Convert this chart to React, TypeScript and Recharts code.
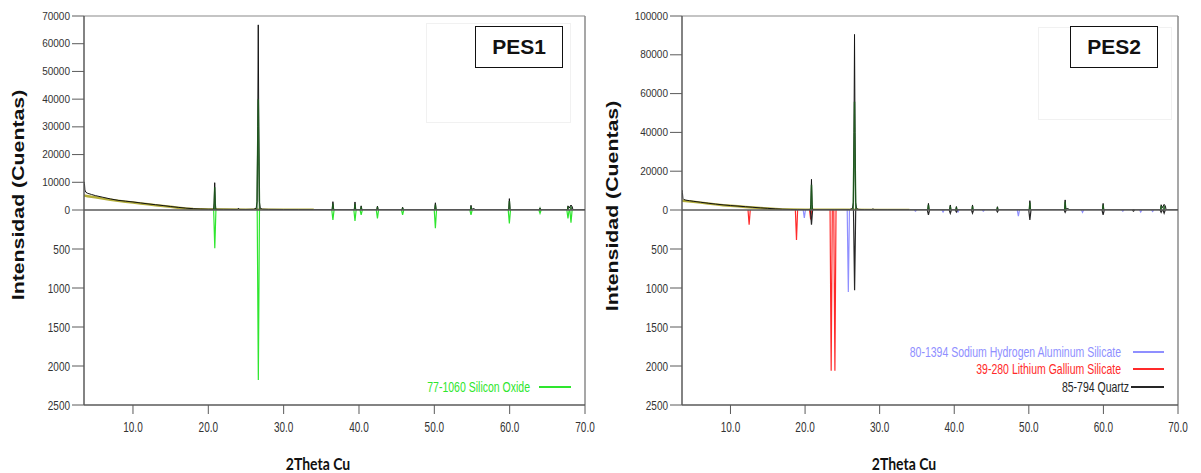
import React from "react";
import { LineChart, Line, XAxis, YAxis, ReferenceLine } from "recharts";

type Pt = [number, number];

const thetaTicks = [10, 20, 30, 40, 50, 60, 70];
const refTicks = [500, 1000, 1500, 2000, 2500];
const pes1CountTicks = [0, 10000, 20000, 30000, 40000, 50000, 60000, 70000];
const pes2CountTicks = [0, 20000, 40000, 60000, 80000, 100000];

// PES1 measured scan, 2θ vs counts
const pes1Scan: Pt[] = [
  [3.5, 10200], [3.56, 9600], [3.62, 7200], [3.75, 6400], [4.0, 6000], [4.5, 5600], [5.0, 5200],
  [6.0, 4600], [7.0, 4000], [8.0, 3500], [9.0, 3200], [10.0, 2900], [11.0, 2550], [12.0, 2200],
  [13.0, 1900], [14.0, 1600], [15.0, 1250], [16.0, 950], [17.0, 680], [18.0, 470], [19.0, 340],
  [20.0, 280], [20.7, 260], [20.78, 2500], [20.85, 9850], [20.92, 2500], [21.0, 260],
  [22.0, 240], [23.0, 220], [23.9, 210], [24.0, 650], [24.1, 210], [25.0, 200], [26.0, 260],
  [26.35, 600], [26.48, 3000], [26.56, 30000], [26.63, 66800], [26.7, 30000], [26.78, 3000],
  [26.9, 600], [27.2, 300], [28.0, 220], [30.0, 180], [32.0, 150], [34.0, 120],
  [36.44, 110], [36.54, 3000], [36.64, 110], [39.38, 100], [39.47, 2900], [39.56, 100],
  [40.22, 100], [40.29, 1500], [40.38, 100], [42.37, 100], [42.45, 1400], [42.54, 100],
  [45.72, 90], [45.79, 1000], [45.88, 90], [50.05, 90], [50.14, 2600], [50.24, 90],
  [54.8, 80], [54.87, 1700], [54.95, 300], [55.3, 500], [55.4, 80], [59.88, 80], [59.96, 4100],
  [60.05, 500], [60.12, 80], [63.95, 80], [64.03, 700], [64.11, 80], [67.66, 80], [67.74, 1500],
  [67.9, 700], [68.14, 1800], [68.3, 1200], [68.4, 80], [70.0, 80],
];

// PES1 fitted background
const pes1Background: Pt[] = [
  [3.5, 5200], [4.0, 5000], [5.0, 4600], [6.0, 4100], [7.0, 3700], [8.0, 3300], [9.0, 3000],
  [10.0, 2700], [11.0, 2350], [12.0, 2050], [13.0, 1750], [14.0, 1450], [15.0, 1150],
  [16.0, 850], [17.0, 550], [18.0, 350], [19.0, 250], [20.0, 200], [22.0, 150], [25.0, 120],
  [30.0, 80], [34.0, 50],
];

// PES1 calculated profile around each reflection
const pes1Profile: Pt[][] = [
  [[20.75, 0], [20.85, 8200], [20.95, 0]],
  [[26.45, 0], [26.55, 22000], [26.63, 40000], [26.7, 22000], [26.8, 0]],
  [[36.46, 0], [36.54, 2300], [36.62, 0]],
  [[39.4, 0], [39.47, 2200], [39.54, 0]],
  [[40.23, 0], [40.29, 1200], [40.35, 0]],
  [[42.39, 0], [42.45, 1100], [42.51, 0]],
  [[45.73, 0], [45.79, 800], [45.85, 0]],
  [[50.07, 0], [50.14, 2000], [50.21, 0]],
  [[54.8, 0], [54.87, 1300], [54.94, 0]],
  [[59.89, 0], [59.96, 3200], [60.03, 0]],
  [[63.97, 0], [64.03, 500], [64.09, 0]],
  [[67.68, 0], [67.74, 1200], [67.8, 0]],
  [[68.08, 0], [68.14, 1400], [68.2, 0]],
];

// PES2 measured scan
const pes2Scan: Pt[] = [
  [3.5, 10300], [3.56, 9000], [3.62, 6000], [3.75, 5400], [4.0, 5100], [4.5, 4800], [5.0, 4500],
  [6.0, 4000], [7.0, 3500], [8.0, 3050], [9.0, 2650], [10.0, 2300], [11.0, 2000], [12.0, 1700],
  [13.0, 1400], [14.0, 1100], [15.0, 850], [16.0, 600], [17.0, 400], [18.0, 280], [19.0, 220],
  [20.0, 190], [20.7, 180], [20.78, 3000], [20.86, 15800], [20.94, 3000], [21.02, 180],
  [22.0, 170], [24.0, 160], [26.0, 220], [26.35, 800], [26.48, 4000], [26.56, 40000],
  [26.63, 90500], [26.7, 40000], [26.78, 4000], [26.9, 800], [27.2, 300], [28.0, 200],
  [29.0, 180], [29.1, 700], [29.2, 180], [31.0, 150], [34.0, 120],
  [36.45, 110], [36.54, 3400], [36.63, 110], [39.38, 100], [39.47, 2600], [39.56, 100],
  [40.22, 100], [40.29, 1800], [40.36, 100], [42.38, 100], [42.45, 2600], [42.52, 100],
  [45.72, 90], [45.79, 1700], [45.86, 90], [50.06, 90], [50.14, 4800], [50.22, 90],
  [54.8, 80], [54.87, 5200], [54.95, 600], [55.3, 700], [55.4, 80], [59.88, 80], [59.96, 3400],
  [60.04, 80], [63.96, 80], [64.03, 500], [64.1, 80], [67.67, 80], [67.74, 2700], [67.9, 1200],
  [68.14, 2900], [68.31, 2000], [68.4, 80], [70.0, 80],
];

const pes2Background: Pt[] = [
  [3.5, 4800], [4.0, 4600], [5.0, 4300], [6.0, 3800], [7.0, 3300], [8.0, 2900], [9.0, 2500],
  [10.0, 2200], [11.0, 1900], [12.0, 1600], [13.0, 1300], [14.0, 1000], [15.0, 750],
  [16.0, 500], [17.0, 320], [18.0, 220], [20.0, 160], [22.0, 120], [25.0, 90], [30.0, 60],
  [34.0, 40],
];

const pes2Profile: Pt[][] = [
  [[20.76, 0], [20.86, 13000], [20.96, 0]],
  [[26.45, 0], [26.55, 30000], [26.63, 55800], [26.7, 30000], [26.8, 0]],
  [[36.46, 0], [36.54, 2700], [36.62, 0]],
  [[39.4, 0], [39.47, 2000], [39.54, 0]],
  [[40.23, 0], [40.29, 1400], [40.35, 0]],
  [[42.39, 0], [42.45, 2000], [42.51, 0]],
  [[45.73, 0], [45.79, 1300], [45.85, 0]],
  [[50.07, 0], [50.14, 3800], [50.21, 0]],
  [[54.8, 0], [54.87, 4200], [54.94, 0]],
  [[59.89, 0], [59.96, 2700], [60.03, 0]],
  [[67.68, 0], [67.74, 2100], [67.8, 0]],
  [[68.08, 0], [68.14, 2300], [68.2, 0]],
];

// reference cards: 2θ, relative intensity
const silicon77_1060: Pt[] = [
  [20.86, 490], [26.64, 2180], [36.54, 128], [39.47, 141], [40.29, 64], [42.45, 107],
  [45.79, 64], [50.14, 235], [54.87, 64], [59.96, 171], [64.03, 43], [67.74, 107], [68.14, 162],
];
const quartz85_794: Pt[] = [
  [20.86, 190], [26.64, 1030], [36.54, 64], [39.47, 43], [40.29, 25], [42.45, 40],
  [45.79, 25], [50.14, 128], [54.87, 30], [59.96, 64], [64.03, 15], [67.74, 30], [68.14, 40],
];
const lithiumGallium39_280: Pt[] = [
  [12.5, 190], [18.85, 385], [20.75, 120], [23.5, 2060], [24.0, 2060],
];
const sodiumAluminum80_1394: Pt[] = [
  [19.9, 100], [25.8, 1050], [34.8, 15], [38.5, 25], [40.5, 25], [43.9, 15], [48.6, 80],
  [57.2, 30], [62.6, 15], [65.0, 25], [66.6, 20],
];

const STICK_HALF = 0.15;
const tickFont = "'Liberation Sans', Arial, sans-serif";

type Row = { x: number; y: number | null };

const toRows = (pts: Pt[]): Row[] => pts.map(([x, y]) => ({ x, y }));

// segments joined with gaps so nothing is drawn along the baseline between them
const segmentsToRows = (segs: Pt[][]): Row[] =>
  segs.flatMap((s) => [...toRows(s), { x: s[s.length - 1][0] + 0.01, y: null }]);

const sticksToRows = (peaks: Pt[]): Row[] =>
  segmentsToRows(peaks.map(([p, i]) => [[p - STICK_HALF, 0], [p, i], [p + STICK_HALF, 0]]));

const yTick = (stretch: number) => (props: any) => {
  const { x, y, payload } = props;
  return (
    <text
      transform={`translate(${x},${y}) scale(1,${stretch})`}
      textAnchor="end"
      dy="0.36em"
      fontSize={10}
      fill="#333"
      fontFamily={tickFont}
    >
      {payload.value}
    </text>
  );
};

const xTick = (props: any) => {
  const { x, y, payload } = props;
  return (
    <text
      transform={`translate(${x},${y}) scale(1,1.45)`}
      textAnchor="middle"
      y={11}
      fontSize={10}
      fill="#333"
      fontFamily={tickFont}
    >
      {Number(payload.value).toFixed(1)}
    </text>
  );
};

type Series = { rows: Row[]; color: string; width: number; opacity?: number };
type LegendItem = { label: string; color: string; textRight: number; y: number; lineFrom: number; lineTo: number };

interface PanelProps {
  left: number;
  width: number;
  plotLeft: number;
  plotRight: number;
  countMax: number;
  countTicks: number[];
  top: Series[];
  bottom: Series[];
  name: string;
  nameBox: [number, number];
  frameBox: [number, number, number, number];
  titleX: number;
  titleY: number;
  xTitleX: number;
  legend: LegendItem[];
}

function Panel(p: PanelProps) {
  const axisColor = "#5a5a5a";
  const mLeft = p.plotLeft - p.left - 60;
  const mRight = p.left + p.width - p.plotRight;
  return (
    <>
      {/* reference patterns below the baseline, drawn first so the count axis "0" label sits on top */}
      <div style={{ position: "absolute", left: p.left, top: 208 }}>
        <LineChart width={p.width} height={265} margin={{ top: 2, right: mRight, bottom: 0, left: mLeft }}>
          <XAxis
            type="number"
            dataKey="x"
            domain={[3.5, 70]}
            ticks={thetaTicks}
            height={68}
            tickSize={9}
            tick={xTick}
            tickLine={{ stroke: axisColor }}
            axisLine={{ stroke: axisColor, strokeWidth: 1.5 }}
            interval={0}
            allowDataOverflow
          />
          <YAxis
            type="number"
            domain={[0, 2500]}
            ticks={refTicks}
            reversed
            width={60}
            tickSize={12}
            tick={yTick(1.35)}
            tickLine={{ stroke: axisColor }}
            axisLine={{ stroke: axisColor, strokeWidth: 1.5 }}
            interval={0}
            allowDataOverflow
          />
          <ReferenceLine x={70} stroke="#8a8a8a" strokeWidth={1.5} />
          {p.bottom.map((s, i) => (
            <Line
              key={i}
              data={s.rows}
              dataKey="y"
              type="linear"
              stroke={s.color}
              strokeWidth={s.width}
              strokeOpacity={s.opacity ?? 1}
              dot={false}
              activeDot={false}
              isAnimationActive={false}
            />
          ))}
        </LineChart>
      </div>
      {/* measured scan above the baseline */}
      <div style={{ position: "absolute", left: p.left, top: 0 }}>
        <LineChart width={p.width} height={224} margin={{ top: 16, right: mRight, bottom: 14, left: mLeft }}>
          <XAxis type="number" dataKey="x" domain={[3.5, 70]} hide allowDataOverflow />
          <YAxis
            type="number"
            domain={[0, p.countMax]}
            ticks={p.countTicks}
            width={60}
            tickSize={12}
            tick={yTick(1)}
            tickLine={{ stroke: axisColor }}
            axisLine={{ stroke: axisColor, strokeWidth: 1.5 }}
            interval={0}
            allowDataOverflow
          />
          <ReferenceLine y={p.countMax} stroke="#8a8a8a" strokeWidth={1.2} />
          <ReferenceLine x={70} stroke="#8a8a8a" strokeWidth={1.5} />
          {p.top.map((s, i) => (
            <Line
              key={i}
              data={s.rows}
              dataKey="y"
              type="linear"
              stroke={s.color}
              strokeWidth={s.width}
              strokeOpacity={s.opacity ?? 1}
              dot={false}
              activeDot={false}
              isAnimationActive={false}
            />
          ))}
          <ReferenceLine y={0} stroke={axisColor} strokeWidth={1.5} />
        </LineChart>
      </div>

      <div
        style={{
          position: "absolute",
          left: p.frameBox[0],
          top: p.frameBox[1],
          width: p.frameBox[2] - p.frameBox[0],
          height: p.frameBox[3] - p.frameBox[1],
          border: "1px solid #f1f1f1",
          boxSizing: "border-box",
        }}
      />
      <div
        style={{
          position: "absolute",
          left: p.nameBox[0],
          top: 26,
          width: 88,
          height: 42,
          border: "1.5px solid #111",
          boxSizing: "border-box",
          background: "#fff",
          display: "flex",
          alignItems: "center",
          justifyContent: "center",
          font: "bold 21px 'Liberation Sans', Arial, sans-serif",
          color: "#111",
        }}
      >
        {p.name}
      </div>

      <div
        style={{
          position: "absolute",
          left: p.titleX,
          top: p.titleY,
          transform: "translate(-50%,-50%) rotate(-90deg) scaleX(1.33)",
          whiteSpace: "nowrap",
          font: "bold 16px 'Liberation Sans', Arial, sans-serif",
          lineHeight: "16px",
          color: "#111",
        }}
      >
        Intensidad (Cuentas)
      </div>
      <div
        style={{
          position: "absolute",
          left: p.xTitleX,
          top: 464,
          transform: "translate(-50%,-50%) scaleY(1.2)",
          whiteSpace: "nowrap",
          font: "bold 14px Lato, 'Open Sans', sans-serif",
          lineHeight: "14px",
          color: "#111",
        }}
      >
        2Theta Cu
      </div>

      {p.legend.map((l) => (
        <React.Fragment key={l.label}>
          <div
            style={{
              position: "absolute",
              right: 1201 - l.textRight,
              top: l.y,
              transform: "translateY(-50%) scaleY(1.4)",
              whiteSpace: "nowrap",
              font: "10.5px 'Liberation Sans', Arial, sans-serif",
              lineHeight: "11px",
              color: l.color,
            }}
          >
            {l.label}
          </div>
          <div
            style={{
              position: "absolute",
              left: l.lineFrom,
              top: l.y - 1,
              width: l.lineTo - l.lineFrom,
              height: 1.5,
              background: l.color,
            }}
          />
        </React.Fragment>
      ))}
    </>
  );
}

const scanColor = "#141414";
const backgroundColor = "#b3ad3a";
const profileColor = "#1d5e1d";
const siliconColor = "#2ee62e";
const quartzColor = "#262626";
const lithiumColor = "#ff2a2a";
const sodiumColor = "#8f8fff";

export default function App() {
  return (
    <div
      style={{
        position: "absolute",
        left: 0,
        top: 0,
        width: 1201,
        height: 473,
        background: "#fff",
        overflow: "hidden",
      }}
    >
      <Panel
        left={0}
        width={600}
        plotLeft={84}
        plotRight={585}
        countMax={70000}
        countTicks={pes1CountTicks}
        top={[
          { rows: toRows(pes1Background), color: backgroundColor, width: 2.5 },
          { rows: toRows(pes1Scan), color: scanColor, width: 1 },
          { rows: segmentsToRows(pes1Profile), color: profileColor, width: 1.5, opacity: 0.85 },
        ]}
        bottom={[{ rows: sticksToRows(silicon77_1060), color: siliconColor, width: 1.2 }]}
        name="PES1"
        nameBox={[475, 26]}
        frameBox={[426, 23, 571, 123]}
        titleX={18.5}
        titleY={195}
        xTitleX={318}
        legend={[
          { label: "77-1060 Silicon Oxide", color: siliconColor, textRight: 530, y: 387, lineFrom: 539, lineTo: 571 },
        ]}
      />
      <Panel
        left={600}
        width={601}
        plotLeft={682}
        plotRight={1178}
        countMax={100000}
        countTicks={pes2CountTicks}
        top={[
          { rows: toRows(pes2Background), color: backgroundColor, width: 2.5 },
          { rows: toRows(pes2Scan), color: scanColor, width: 1 },
          { rows: segmentsToRows(pes2Profile), color: profileColor, width: 1.5, opacity: 0.85 },
        ]}
        bottom={[
          { rows: sticksToRows(sodiumAluminum80_1394), color: sodiumColor, width: 1.2 },
          { rows: sticksToRows(lithiumGallium39_280), color: lithiumColor, width: 1.2 },
          { rows: sticksToRows(quartz85_794), color: quartzColor, width: 1.2 },
        ]}
        name="PES2"
        nameBox={[1070, 26]}
        frameBox={[1038, 27, 1172, 120]}
        titleX={613}
        titleY={206}
        xTitleX={904}
        legend={[
          { label: "80-1394 Sodium Hydrogen Aluminum Silicate", color: sodiumColor, textRight: 1121, y: 352, lineFrom: 1133, lineTo: 1164 },
          { label: "39-280 Lithium Gallium Silicate", color: lithiumColor, textRight: 1121, y: 369, lineFrom: 1133, lineTo: 1164 },
          { label: "85-794 Quartz", color: quartzColor, textRight: 1129, y: 387, lineFrom: 1131, lineTo: 1164 },
        ]}
      />
    </div>
  );
}
